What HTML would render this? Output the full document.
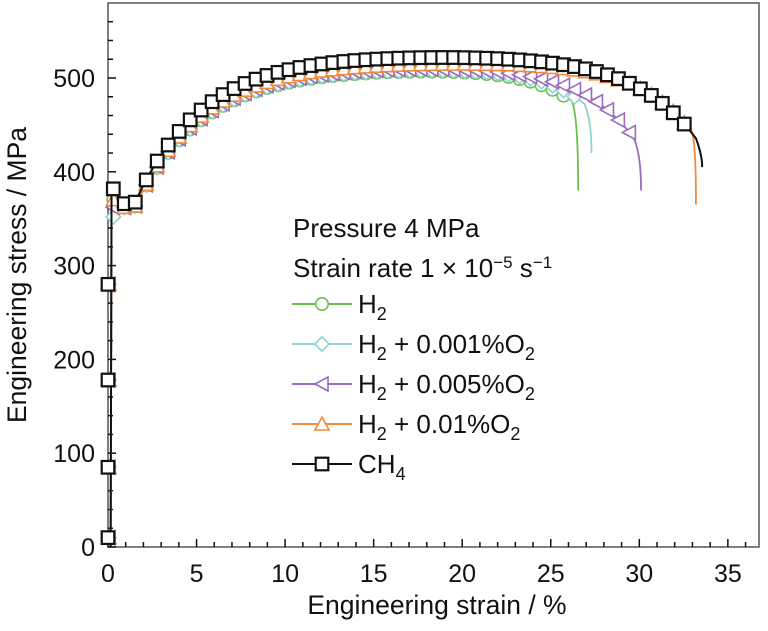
<!DOCTYPE html>
<html><head><meta charset="utf-8"><style>
html,body{margin:0;padding:0;background:#fff;}
svg text{font-family:"Liberation Sans",Arial,sans-serif;fill:#111;}
</style></head><body>
<svg id="s" width="768" height="626" viewBox="0 0 768 626" xmlns="http://www.w3.org/2000/svg">
<rect x="108" y="3" width="651" height="544" fill="none" stroke="#555" stroke-width="1.5"/>
<g id="ticks" stroke="#111" stroke-width="1.5"></g>
<g id="curves"></g>
<g font-size="25" text-anchor="middle" id="xl"></g>
<g font-size="25" text-anchor="end" id="yl"></g>
<text x="437" y="614" font-size="26.5" text-anchor="middle">Engineering strain / %</text>
<text transform="translate(26,275) rotate(-90)" font-size="26.5" text-anchor="middle">Engineering stress / MPa</text>
<g font-size="26">
<text x="293" y="237">Pressure 4 MPa</text>
<text x="293" y="277">Strain rate 1 × 10<tspan dy="-9" font-size="17">−5</tspan><tspan dy="9"> s</tspan><tspan dy="-9" font-size="17">−1</tspan></text>
</g>
<g id="leg" font-size="26"></g>
</svg>
<script>
const NS="http://www.w3.org/2000/svg";
function el(p,t,a,txt){const e=document.createElementNS(NS,t);for(const k in a)e.setAttribute(k,a[k]);if(txt!==undefined)e.textContent=txt;p.appendChild(e);return e;}
const X=e=>108+e*17.71, Y=s=>547-s*0.938;
const tk=document.getElementById('ticks');
for(let i=0;i<=36;i++){const l=i%5==0?8:5;el(tk,'line',{x1:X(i),x2:X(i),y1:547,y2:547-l});}
for(let s=0;s<=560;s+=20){const l=s%100==0?8:5;el(tk,'line',{x1:108,x2:108+l,y1:Y(s),y2:Y(s)});}
const xl=document.getElementById('xl');for(let i=0;i<=35;i+=5)el(xl,'text',{x:X(i),y:582},String(i));
const yl=document.getElementById('yl');for(let s=0;s<=500;s+=100)el(yl,'text',{x:95,y:Y(s)+9},String(s));
const series=[
 {c:'#6cbf4f',m:'o',A:510,end:26.3,D:36,w:2.5,drop:380,de:0.25,y0:372,lbl:'H2'},
 {c:'#8fd3d3',m:'d',A:511,end:27.0,D:40,w:2.5,drop:420,de:0.3,y0:350,lbl:'H2 + 0.001%O2'},
 {c:'#9b6bbf',m:'l',A:513,end:29.8,D:80,w:3.0,drop:380,de:0.3,y0:362,lbl:'H2 + 0.005%O2'},
 {c:'#f08a3c',m:'t',A:517,end:33.1,D:78,w:3.0,drop:365,de:0.1,y0:372,lbl:'H2 + 0.01%O2'},
 {c:'#111',m:'s',A:525,end:33.3,D:92,w:3.5,drop:405,de:0.25,y0:385,lbl:'CH4'}];
function f(p,e){if(e<0.15)return 0;
 const base=p.m=='s'?366:362;
 if(e<1.5){return p.y0+(base-p.y0)*Math.min(1,(e-0.2)/0.6);}
 const h=p.A-(p.A-base)*Math.exp(-(e-1.5)/3.8);
 return h-p.D*Math.exp((e-p.end)/p.w);}
function mark(g,p,x,y){const a={fill:'#fff',stroke:p.c,'stroke-width':1.6};
 if(p.m=='o')el(g,'circle',Object.assign({cx:x,cy:y,r:6.2},a));
 if(p.m=='d')el(g,'polygon',Object.assign({points:`${x},${y-7.2} ${x+7.2},${y} ${x},${y+7.2} ${x-7.2},${y}`},a));
 if(p.m=='l')el(g,'polygon',Object.assign({points:`${x-7},${y} ${x+6},${y-7} ${x+6},${y+7}`},a));
 if(p.m=='t')el(g,'polygon',Object.assign({points:`${x},${y-7} ${x+7},${y+6} ${x-7},${y+6}`},a));
 if(p.m=='s'){a['stroke-width']=2.2;el(g,'rect',Object.assign({x:x-6.3,y:y-6.3,width:12.6,height:12.6},a));}}
const cv=document.getElementById('curves');
series.forEach(p=>{const g=el(cv,'g',{});let d=`M${X(0.15)},${Y(0)} L${X(0.2)},${Y(p.y0)}`;
 for(let e=0.3;e<=p.end;e+=0.1)d+=` L${X(e).toFixed(1)},${Y(f(p,e)).toFixed(1)}`;
 const ye=f(p,p.end);d+=` Q${X(p.end+p.de)},${Y(ye-15)} ${X(p.end+p.de)},${Y(p.drop)}`;
 el(g,'path',{d:d,fill:'none',stroke:p.c,'stroke-width':p.m=='s'?2:1.8});
 const xs=p.m=='s'?108:109;
 [10,85,178,280].forEach(s=>mark(g,p,xs,Y(s)));
 for(let e=0.3;e<=p.end-0.2;e+=0.62)mark(g,p,X(e),Y(f(p,e)));});
const lg=document.getElementById('leg');
series.forEach((p,i)=>{const y=304+40*i;el(lg,'line',{x1:292,x2:352,y1:y,y2:y,stroke:p.c,'stroke-width':2});mark(lg,p,322,y);
 const t=el(lg,'text',{x:358,y:y+9});const re=/(H2|O2|CH4)/g;let last=0,m;
 while((m=re.exec(p.lbl))){if(m.index>last)el(t,'tspan',{},p.lbl.slice(last,m.index));
  const base=m[0].slice(0,-1),sub=m[0].slice(-1);el(t,'tspan',{},base);el(t,'tspan',{dy:7,'font-size':18},sub);el(t,'tspan',{dy:-7},'\u200b');last=re.lastIndex;}
 if(last<p.lbl.length)el(t,'tspan',{},p.lbl.slice(last));});
</script>
</body></html>
